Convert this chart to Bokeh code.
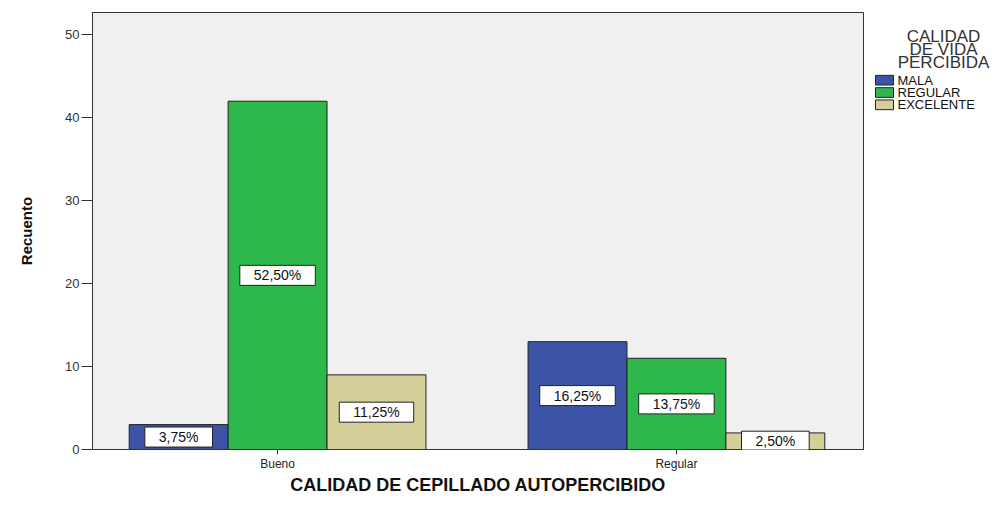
from bokeh.plotting import figure
from bokeh.models import Label, FixedTicker, Range1d, ColumnDataSource
from bokeh.core.properties import value
from bokeh.layouts import row
from bokeh.embed import file_html
from bokeh.resources import INLINE

# ---- data ----
groups = ["Bueno", "Regular"]
series = ["MALA", "REGULAR", "EXCELENTE"]
mala = [3, 13]
regular = [42, 11]
excelente = [9, 2]
colors = ["#3c54a6", "#2eb84b", "#d5cf99"]
y_ticks = [0, 10, 20, 30, 40, 50]
legend_title = ["CALIDAD", "DE VIDA", "PERCIBIDA"]

total = sum(mala) + sum(regular) + sum(excelente)

W, H = 870, 497
ml, mr, mt, mb = 92, 7, 12, 40
x0, x1 = 0.536, 2.469
y0, y1 = 0.0, 52.7

p = figure(width=W, height=H, output_backend="svg", toolbar_location=None,
           x_range=Range1d(x0, x1), y_range=Range1d(y0, y1),
           min_border_left=ml, min_border_right=mr, min_border_top=mt,
           min_border_bottom=mb)
p.background_fill_color = "#f0f0f0"
p.border_fill_color = "white"
p.outline_line_color = "#333333"
p.outline_line_width = 1
p.grid.visible = False

bw = 0.248
offsets = [-bw, 0.0, bw]
for vals, off, col in zip([mala, regular, excelente], offsets, colors):
    xs = [i + 1 + off for i in range(len(groups))]
    src = ColumnDataSource(dict(x=xs, top=vals))
    p.vbar(x="x", top="top", bottom=0, width=bw, source=src, fill_color=col,
           line_color="#222222", line_width=1)
    for xv, v in zip(xs, vals):
        lab = ("%.2f" % (v / total * 100)).replace(".", ",") + "%"
        p.add_layout(Label(x=xv, y=v / 2, text=lab, text_align="center",
                           text_baseline="middle", text_font="Liberation Sans",
                           text_font_size="14px", text_color="#111111",
                           background_fill_color="white",
                           border_line_color="#222222", border_line_width=1,
                           padding=(14, 2)))

# axes
p.yaxis.ticker = FixedTicker(ticks=y_ticks)
p.yaxis.axis_label = "Recuento"
p.yaxis.axis_label_text_font = "Liberation Sans"
p.yaxis.axis_label_text_font_style = "bold"
p.yaxis.axis_label_text_font_size = "15px"
p.yaxis.axis_label_text_color = "#111111"
p.yaxis.axis_label_standoff = 27
p.yaxis.major_label_text_font = "Liberation Sans"
p.yaxis.major_label_text_font_size = "13px"
p.yaxis.major_label_text_color = "#333333"
p.yaxis.major_label_standoff = 2
p.yaxis.major_tick_out = 11
p.yaxis.major_tick_in = 0
p.yaxis.minor_tick_line_color = None
p.yaxis.axis_line_color = "#333333"
p.yaxis.major_tick_line_color = "#333333"

p.xaxis.ticker = FixedTicker(ticks=[1, 2])
p.xaxis.major_label_overrides = {1: groups[0], 2: groups[1]}
p.xaxis.axis_label = "CALIDAD DE CEPILLADO AUTOPERCIBIDO"
p.xaxis.axis_label_text_font = "Liberation Sans"
p.xaxis.axis_label_text_font_style = "bold"
p.xaxis.axis_label_text_font_size = "18px"
p.xaxis.axis_label_text_color = "#111111"
p.xaxis.axis_label_standoff = 1
p.xaxis.major_label_text_font = "Liberation Sans"
p.xaxis.major_label_text_font_size = "12px"
p.xaxis.major_label_text_color = "#222222"
p.xaxis.major_label_standoff = 2
p.xaxis.major_tick_out = 5
p.xaxis.major_tick_in = 0
p.xaxis.minor_tick_line_color = None
p.xaxis.axis_line_color = "#333333"
p.xaxis.major_tick_line_color = "#333333"

# ---- legend panel (separate small figure, pixel-like coordinates) ----
LW = 130
lg = figure(width=LW, height=H, output_backend="svg", toolbar_location=None,
            x_range=Range1d(0, LW), y_range=Range1d(H, 0),
            x_axis_type=None, y_axis_type=None,
            min_border_left=0, min_border_right=0, min_border_top=0,
            min_border_bottom=0)
lg.outline_line_color = None
lg.grid.visible = False
lg.background_fill_color = "white"
lg.border_fill_color = "white"

title_y = [27, 42, 57]
lg.text(x=[73] * len(legend_title), y=title_y, text=legend_title,
        text_align="center", text_baseline="middle",
        text_font=value("Liberation Sans"),
        text_font_size="17px", text_color="#333333")

item_y = [77, 91, 105]
lg.rect(x=[14] * len(series), y=item_y, width=18, height=11,
        fill_color=colors, line_color="#222222", line_width=1)
lg.text(x=[27] * len(series), y=item_y, text=series, text_align="left",
        text_baseline="middle", text_font=value("Liberation Sans"),
        text_font_size="13px", text_color="#111111")

layout = row(p, lg)
open("out.html", "w").write(file_html(layout, INLINE))
